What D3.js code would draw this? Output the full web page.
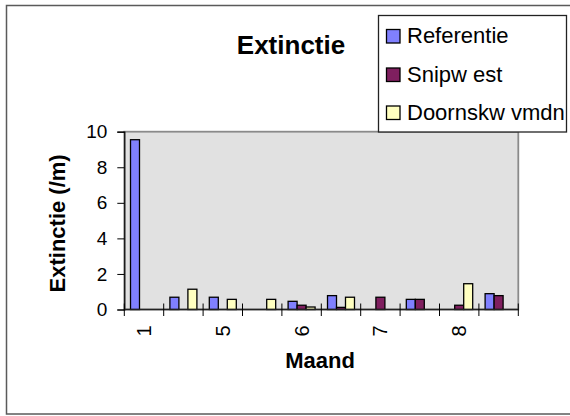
<!DOCTYPE html>
<html>
<head>
<meta charset="utf-8">
<script src="https://cdn.jsdelivr.net/npm/d3@7"></script>
<style>
  html, body { margin: 0; padding: 0; background: #fff; }
  svg { display: block; font-family: "Liberation Sans", Arial, sans-serif; }
</style>
</head>
<body>
<svg id="chart" width="570" height="416"></svg>
<script>
// Month labels on the category axis (only every other group is labelled)
const maandLabels = ["1", "", "5", "", "6", "", "7", "", "8", ""];

// Extinction per series (/m); null = no measurement
const referentie = [9.55, 0.69, 0.69, null, 0.46, 0.78, null, 0.57, null, 0.89];
const snipwest   = [null, null, null, null, 0.24, 0.12, 0.69, 0.57, 0.24, 0.78];
const doornskw   = [null, 1.14, 0.57, 0.57, 0.14, 0.69, null, null, 1.45, null];

const seriesNames  = ["Referentie", "Snipw est", "Doornskw vmdn"];
const seriesColors = ["#8080ff", "#7f1f5f", "#ffffc0"];
const yTicks = [0, 2, 4, 6, 8, 10];

const seriesValues = [referentie, snipwest, doornskw];

const svg = d3.select("#chart");

const plot = { left: 124.3, right: 518.3, top: 131.7, bottom: 309.5 };

// Outer chart frame
svg.append("rect")
  .attr("x", 6.5).attr("y", 5.5)
  .attr("width", 580).attr("height", 408.5)
  .attr("fill", "#fff").attr("stroke", "#5a5a5a").attr("stroke-width", 1.5);

const x = d3.scaleBand()
  .domain(d3.range(maandLabels.length))
  .range([plot.left, plot.right])
  .paddingInner(0).paddingOuter(0);

const xInner = d3.scaleBand()
  .domain(d3.range(seriesNames.length))
  .range([0, x.bandwidth()])
  .paddingInner(0).paddingOuter(0.69);

const y = d3.scaleLinear().domain([0, 10]).range([plot.bottom, plot.top]);

// Plot area
svg.append("rect")
  .attr("x", plot.left).attr("y", plot.top)
  .attr("width", plot.right - plot.left).attr("height", plot.bottom - plot.top)
  .attr("fill", "#e1e1e1").attr("stroke", "#8a8a8a").attr("stroke-width", 1.8);

// Bars
const barData = [];
seriesValues.forEach((vals, s) => {
  vals.forEach((v, i) => {
    if (v !== null) barData.push({ i, s, v });
  });
});

svg.append("g").selectAll("rect")
  .data(barData)
  .join("rect")
  .attr("x", d => x(d.i) + xInner(d.s))
  .attr("y", d => y(d.v))
  .attr("width", xInner.bandwidth())
  .attr("height", d => y(0) - y(d.v))
  .attr("fill", d => seriesColors[d.s])
  .attr("stroke", "#000").attr("stroke-width", 1.3);

// Y axis
const yAxis = d3.axisLeft(y).tickValues(yTicks).tickSize(7).tickPadding(10);
const gy = svg.append("g").attr("transform", `translate(${plot.left},0)`).call(yAxis);
gy.select(".domain").attr("stroke", "#000").attr("stroke-width", 1.2);
gy.selectAll(".tick line").attr("stroke", "#000");
gy.selectAll(".tick text")
  .attr("font-size", 19).attr("fill", "#000")
  .attr("font-family", "'Liberation Sans', Arial, sans-serif");

// X axis line with crossing tick marks at the group boundaries
const boundaries = d3.range(maandLabels.length + 1).map(i =>
  i < maandLabels.length ? x(i) : x(i - 1) + x.bandwidth());
svg.append("line")
  .attr("x1", plot.left).attr("x2", plot.right)
  .attr("y1", y(0)).attr("y2", y(0))
  .attr("stroke", "#222").attr("stroke-width", 1.5);
svg.append("g").selectAll("line")
  .data(boundaries)
  .join("line")
  .attr("x1", d => d).attr("x2", d => d)
  .attr("y1", y(0) - 6).attr("y2", y(0) + 6.5)
  .attr("stroke", "#000").attr("stroke-width", 1);

// Rotated month labels
svg.append("g").selectAll("text")
  .data(maandLabels.map((t, i) => ({ t, i })).filter(d => d.t !== ""))
  .join("text")
  .attr("transform", d => `translate(${x(d.i) + x.bandwidth() / 2},331) rotate(-90)`)
  .attr("text-anchor", "middle")
  .attr("dy", "0.35em")
  .attr("font-size", 20)
  .text(d => d.t);

// Titles
svg.append("text")
  .attr("x", 291).attr("y", 54)
  .attr("text-anchor", "middle")
  .attr("font-size", 26).attr("font-weight", "bold")
  .text("Extinctie");

svg.append("text")
  .attr("transform", "translate(65,223.4) rotate(-90)")
  .attr("text-anchor", "middle")
  .attr("font-size", 22).attr("font-weight", "bold")
  .text("Extinctie (/m)");

svg.append("text")
  .attr("x", 320).attr("y", 368)
  .attr("text-anchor", "middle")
  .attr("font-size", 22).attr("font-weight", "bold")
  .text("Maand");

// Legend
const legend = svg.append("g");
legend.append("rect")
  .attr("x", 378.5).attr("y", 15.5)
  .attr("width", 188).attr("height", 116.5)
  .attr("fill", "#fff").attr("stroke", "#222").attr("stroke-width", 1.3);

const rowY = [36, 74.5, 112.5];
const rows = legend.selectAll("g.row")
  .data(seriesNames.map((n, s) => ({ n, s })))
  .join("g").attr("class", "row")
  .attr("transform", d => `translate(0,${rowY[d.s]})`);
rows.append("rect")
  .attr("x", 386.5).attr("y", -6.5)
  .attr("width", 13.5).attr("height", 13.5)
  .attr("fill", d => seriesColors[d.s])
  .attr("stroke", "#000").attr("stroke-width", 1.3);
rows.append("text")
  .attr("x", 407).attr("y", 7)
  .attr("font-size", 22)
  .text(d => d.n);
</script>
</body>
</html>
